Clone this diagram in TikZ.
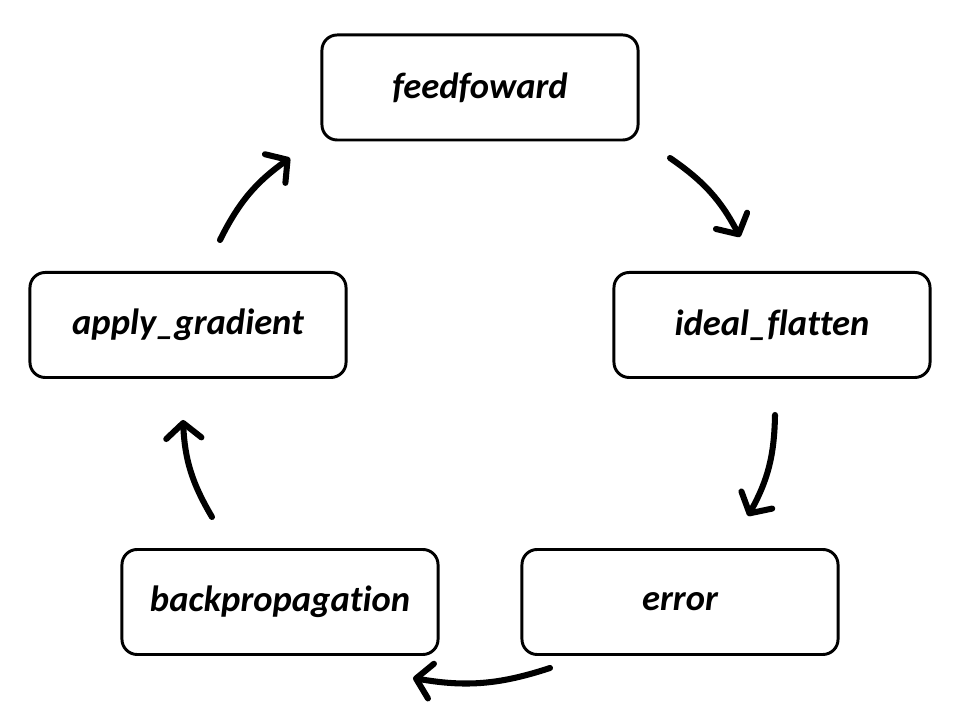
\documentclass[tikz,border=0pt]{standalone}
\usepackage{fontspec}
\setmainfont{Carlito}[Ligatures=NoCommon]
\usetikzlibrary{arrows.meta,positioning}
\definecolor{ink}{HTML}{000000}

\begin{document}
\begin{tikzpicture}[x=0.025cm,y=0.025cm,
    stagebox/.style={draw=ink,line width=2.1pt,rounded corners=0.38cm,fill=white,
      minimum width=7.9cm,minimum height=2.625cm,
      font=\fontsize{26}{30}\selectfont\bfseries\itshape},
    cyclearrow/.style={-{Straight Barb[length=3.8mm,width=8.8mm,round]},
      line width=4.3pt,line cap=round,ink,bend left=14}]
  \useasboundingbox[fill=white] (0,0) rectangle (960,720);
  % the five stages
  \node[stagebox] (feed) at (480,632.5) {feedfoward};
  \node[stagebox] (ideal) at (772,395) {ideal\_flatten};
  \node[stagebox] (err) at (680,118) {error};
  \node[stagebox] (back) at (280,118) {backpropagation};
  \node[stagebox] (apply) at (188,395) {apply\_gradient};
  % arrow ends
  \coordinate (fi1) at (670,562); \coordinate (fi2) at (740,483);
  \coordinate (ie1) at (775,305); \coordinate (ie2) at (748,204);
  \coordinate (eb1) at (550,52);  \coordinate (eb2) at (413,42);
  \coordinate (ba1) at (212,203); \coordinate (ba2) at (183,300);
  \coordinate (af1) at (220,480); \coordinate (af2) at (290,562);
  \foreach \s/\t in {fi1/fi2,ie1/ie2,eb1/eb2,ba1/ba2,af1/af2}
    \draw[cyclearrow] (\s) to (\t);
\end{tikzpicture}
\end{document}
